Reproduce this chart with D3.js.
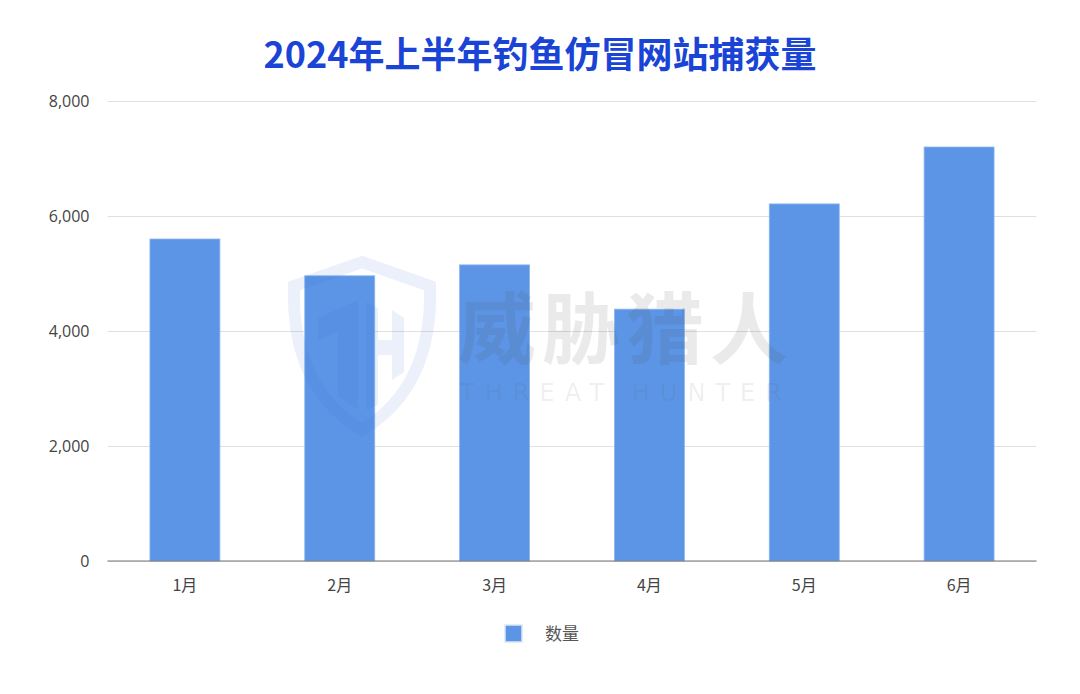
<!DOCTYPE html>
<html><head><meta charset="utf-8">
<script src="https://cdn.jsdelivr.net/npm/d3@7"></script>
<style>body{margin:0;background:#fff;} svg{display:block;}</style>
</head><body>
<script>
const categories = ["1月","2月","3月","4月","5月","6月"];
const values = [5600, 4960, 5150, 4380, 6210, 7200];
const yTicks = [0, 2000, 4000, 6000, 8000];
const seriesName = "数量";
const title = "2024年上半年钓鱼仿冒网站捕获量";

const W = 1080, H = 694;
const margin = {left: 107.5, right: 43.5, top: 101, bottom: 133};
const svg = d3.select("body").append("svg").attr("width", W).attr("height", H);
const font = "'Noto Sans CJK SC','Noto Sans',sans-serif";

svg.append("text").attr("x", 540).attr("y", 68).attr("text-anchor","middle")
  .attr("font-family", font).attr("font-weight", 700).attr("font-size", 36)
  .attr("fill", "#1a44d6").text(title);

const x = d3.scaleBand().domain(categories).range([margin.left, W - margin.right]).paddingInner(0.548).paddingOuter(0.274);
const y = d3.scaleLinear().domain([0, 8000]).range([H - margin.bottom, margin.top]);

// gridlines
const yAxis = d3.axisLeft(y).tickValues(yTicks).tickSize(-(W - margin.left - margin.right)).tickFormat(d3.format(","));
const gy = svg.append("g").attr("transform", `translate(${margin.left},0)`).call(yAxis);
gy.select(".domain").remove();
gy.selectAll(".tick line").attr("stroke", "#e0e0e0").attr("stroke-width", 1);
gy.selectAll(".tick text").attr("x", -18).attr("font-family", "'Open Sans','Noto Sans',sans-serif").attr("font-size", 16).attr("fill", "#444");

// bars
svg.append("g").selectAll("rect").data(values).join("rect")
  .attr("x", (d,i) => x(categories[i]))
  .attr("y", d => y(d))
  .attr("width", x.bandwidth())
  .attr("height", d => y(0) - y(d))
  .attr("fill", "#5c95e6")
  .attr("stroke", "#8fb6ef").attr("stroke-width", 0.8);

// baseline
svg.append("line").attr("x1", margin.left).attr("x2", W - margin.right)
  .attr("y1", y(0)).attr("y2", y(0)).attr("stroke", "#777").attr("stroke-width", 1.2);

// x axis labels
const xAxis = d3.axisBottom(x).tickSize(0).tickPadding(19);
const gx = svg.append("g").attr("transform", `translate(0,${y(0)})`).call(xAxis);
gx.select(".domain").remove();
gx.selectAll(".tick text").attr("font-family", font).attr("font-size", 16).attr("fill", "#444");

// legend
const lg = svg.append("g").attr("transform", "translate(505,625)");
lg.append("rect").attr("width", 17).attr("height", 17).attr("fill", "#5c95e6").attr("stroke", "#dde6f5").attr("stroke-width", 1.5);
lg.append("text").attr("x", 40).attr("y", 15).attr("font-family", font).attr("font-size", 17).attr("fill", "#555").text(seriesName);

// watermark
const wm = svg.append("g").attr("pointer-events", "none");
wm.append("path")
  .attr("d", "M362,262 L430,286 C432,350 412,400 362,430 C312,400 292,350 294,286 Z")
  .attr("fill", "none").attr("stroke", "#3d6fd6").attr("stroke-opacity", 0.1).attr("stroke-width", 12);
wm.append("path")
  .attr("d", "M318,318 L358,300 L358,410 L338,396 L338,332 L318,340 Z")
  .attr("fill", "#3d6fd6").attr("fill-opacity", 0.1);
wm.append("path")
  .attr("d", "M366,302 L378,308 L378,405 L366,410 Z M378,340 L392,340 L392,355 L378,355 Z M392,310 L404,318 L404,372 L392,380 Z")
  .attr("fill", "#3d6fd6").attr("fill-opacity", 0.1);
wm.append("text").attr("x", 458).attr("y", 358).attr("font-family", font).attr("font-weight", 700)
  .attr("font-size", 78).attr("letter-spacing", 6).attr("fill", "#555").attr("fill-opacity", 0.12).text("威胁猎人");
wm.append("text").attr("x", 460).attr("y", 401).attr("font-family", "'DejaVu Sans',sans-serif")
  .attr("font-size", 24).attr("textLength", 322).attr("lengthAdjust", "spacing").attr("fill", "#555").attr("fill-opacity", 0.1).text("THREAT HUNTER");
</script>
</body></html>
